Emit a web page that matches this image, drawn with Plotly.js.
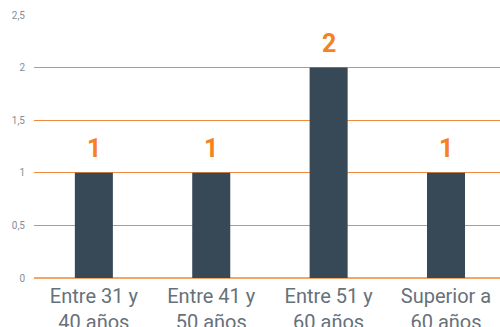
<!DOCTYPE html>
<html>
<head>
<meta charset="utf-8">
<script src="https://cdn.plot.ly/plotly-3.0.1.min.js"></script>
<style>
html,body{margin:0;padding:0;background:#fff;}
#chart{width:500px;height:327px;}
</style>
</head>
<body>
<div id="chart"></div>
<script>
var categories = ["Entre 31 y<br>40 años", "Entre 41 y<br>50 años", "Entre 51 y<br>60 años", "Superior a<br>60 años"];
var values = [1, 1, 2, 1];
var yTicks = [0, 0.5, 1, 1.5, 2, 2.5];

var trace = {
  type: 'bar',
  x: categories,
  y: values,
  width: 0.324,
  marker: {color: '#374856'},
  hoverinfo: 'none'
};

var annotations = categories.map(function(c, i){
  return {
    x: c, y: values[i], xref: 'x', yref: 'y',
    text: String(values[i]),
    showarrow: false, yanchor: 'bottom', yshift: 8,
    font: {family: 'Roboto, sans-serif', size: 25, color: '#f5821f', weight: 'bold'}
  };
});

var layout = {
  width: 500, height: 327,
  margin: {l: 34, r: 0, t: 15, b: 49},
  paper_bgcolor: '#ffffff', plot_bgcolor: '#ffffff',
  separators: ',.',
  showlegend: false,
  xaxis: {
    range: [-0.51, 3.46],
    showgrid: false, zeroline: false, showline: false,
    ticks: '',
    ticklabelstandoff: 4,
    tickfont: {family: '"Liberation Sans Narrow", "Roboto", sans-serif', size: 20, color: '#66717b'},
    fixedrange: true
  },
  yaxis: {
    range: [0, 2.5],
    tickvals: yTicks,
    ticktext: yTicks.map(function(v){ return String(v).replace('.', ','); }),
    showgrid: true, gridcolor: '#f08a3e', gridwidth: 1,
    zeroline: true, zerolinecolor: '#f5a468', zerolinewidth: 2,
    showline: false, ticks: '',
    ticklabelstandoff: 8,
    tickfont: {family: 'Roboto, sans-serif', size: 10, color: '#858d95'},
    fixedrange: true
  },
  annotations: annotations,
  bargap: 0.5
};

Plotly.newPlot('chart', [trace], layout, {displayModeBar: false, staticPlot: true});
</script>
</body>
</html>
